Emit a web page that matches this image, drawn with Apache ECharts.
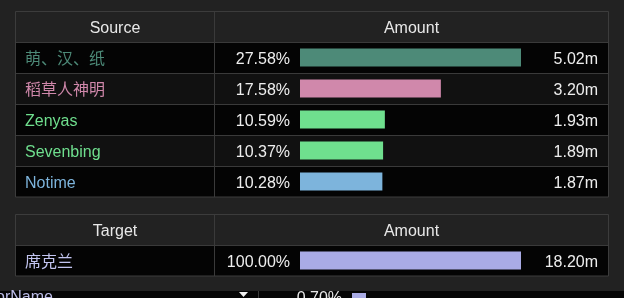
<!DOCTYPE html>
<html>
<head>
<meta charset="utf-8">
<script src="https://cdn.jsdelivr.net/npm/echarts@6/dist/echarts.min.js"></script>
<style>
  html, body { margin: 0; padding: 0; background: #222222; }
  #chart { width: 624px; height: 298px; }
</style>
</head>
<body>
<div id="chart"></div>
<script>
// Damage sources
var sourceNames = ['萌、汉、纸', '稻草人神明', 'Zenyas', 'Sevenbing', 'Notime'];
var sourceShares = [27.58, 17.58, 10.59, 10.37, 10.28];
var sourceAmounts = [5.02, 3.20, 1.93, 1.89, 1.87];
var sourceColors = ['#4d8a78', '#d088ab', '#6fdf8e', '#6fdf8e', '#7db4dc'];

// Targets
var targetNames = ['席克兰'];
var targetShares = [100.00];
var targetAmounts = [18.20];
var targetColors = ['#a9abe5'];

// Header labels
var sourceHeader = ['Source', 'Amount'];
var targetHeader = ['Target', 'Amount'];

var FONT = '"Liberation Sans", Arial, "Noto Sans CJK SC", sans-serif';
var ROW_H = 31;
var TABLE_L = 15.5, TABLE_R = 608.5, COL_X = 214.5;
// cell text sits slightly below the row centre
var CELL_RICH = { c: { padding: [4, 0, 0, 0], fontSize: 16, fontFamily: FONT } };

// Table frame: header cells, striped rows and grid lines
function tableGraphics(top, rows, header) {
  var els = [];
  var bottom = top + ROW_H * (rows + 1);
  for (var i = 0; i < rows; i++) {
    els.push({
      type: 'rect', z: 0,
      shape: { x: TABLE_L, y: top + ROW_H * (i + 1), width: TABLE_R - TABLE_L, height: ROW_H },
      style: { fill: i % 2 === 0 ? '#040404' : '#111111' }
    });
  }
  for (var j = 1; j <= rows; j++) {
    var y = Math.round(top + ROW_H * j) + 0.5;
    els.push({ type: 'line', z: 1, shape: { x1: TABLE_L, y1: y, x2: TABLE_R, y2: y },
      style: { stroke: '#3a3a3a', lineWidth: 1 } });
  }
  els.push({ type: 'line', z: 1, shape: { x1: COL_X, y1: top, x2: COL_X, y2: bottom },
    style: { stroke: '#3a3a3a', lineWidth: 1 } });
  els.push({ type: 'rect', z: 1,
    shape: { x: TABLE_L, y: top + 0.5, width: TABLE_R - TABLE_L, height: bottom - top - 0.5 },
    style: { fill: null, stroke: '#3c3c3c', lineWidth: 1 } });
  els.push({ type: 'text', z: 5, x: (TABLE_L + COL_X) / 2, y: top + ROW_H / 2 + 2.5,
    style: { text: header[0], fill: '#e8e8e8', font: '16px ' + FONT, align: 'center', verticalAlign: 'middle' } });
  els.push({ type: 'text', z: 5, x: (COL_X + TABLE_R) / 2, y: top + ROW_H / 2 + 2.5,
    style: { text: header[1], fill: '#e8e8e8', font: '16px ' + FONT, align: 'center', verticalAlign: 'middle' } });
  return els;
}

var graphics = []
  .concat(tableGraphics(11, sourceNames.length, sourceHeader))
  .concat(tableGraphics(214, targetNames.length, targetHeader));

// Next section peeking in at the bottom edge
graphics.push(
  { type: 'rect', z: 0, shape: { x: 0, y: 291, width: 624, height: 7 }, style: { fill: '#050505' } },
  { type: 'text', z: 5, x: -4, y: 298, style: { text: 'orName', fill: '#bdbde8', font: '16px ' + FONT, align: 'left', verticalAlign: 'middle' } },
  { type: 'polygon', z: 5, shape: { points: [[239, 292], [248, 292], [243.5, 297]] }, style: { fill: '#f0f0f0' } },
  { type: 'line', z: 5, shape: { x1: 258.5, y1: 291, x2: 258.5, y2: 298 }, style: { stroke: '#3a3a3a', lineWidth: 1 } },
  { type: 'text', z: 5, x: 342, y: 299, style: { text: '0.70%', fill: '#e8e8e8', font: '16px ' + FONT, align: 'right', verticalAlign: 'middle' } },
  { type: 'rect', z: 5, shape: { x: 352, y: 293, width: 14, height: 5 }, style: { fill: '#a9abe5' } }
);

function fmtPct(v) { return v.toFixed(2) + '%'; }
function fmtAmt(v) { return v.toFixed(2) + 'm'; }
function cell(text) { return '{c|' + text + '}'; }

function barData(values, colors) {
  return values.map(function (v, i) {
    return { value: v, itemStyle: { color: colors[i] } };
  });
}

function nameAxis(gridIndex, names, colors) {
  return {
    type: 'category', gridIndex: gridIndex, position: 'left', inverse: true, data: names,
    axisLine: { show: false }, axisTick: { show: false }, splitLine: { show: false },
    axisLabel: {
      margin: 275, align: 'left', fontSize: 16, fontFamily: FONT,
      color: function (value, index) { return colors[index]; },
      formatter: cell, rich: CELL_RICH
    }
  };
}

function amountAxis(gridIndex, amounts) {
  return {
    type: 'category', gridIndex: gridIndex, position: 'right', inverse: true,
    data: amounts.map(fmtAmt),
    axisLine: { show: false }, axisTick: { show: false }, splitLine: { show: false },
    axisLabel: { margin: 77, align: 'right', fontSize: 16, fontFamily: FONT, color: '#eeeeee',
      formatter: cell, rich: CELL_RICH }
  };
}

function shareAxis(gridIndex) {
  return { type: 'value', gridIndex: gridIndex, min: 0, max: 'dataMax', show: false };
}

function shareSeries(xi, yi, values, colors) {
  return {
    type: 'bar', xAxisIndex: xi, yAxisIndex: yi, barWidth: 18,
    data: barData(values, colors),
    silent: true, animation: false,
    label: {
      show: true, position: 'left', distance: 10, offset: [0, 2], fontSize: 16, fontFamily: FONT,
      color: '#eeeeee',
      formatter: function (p) { return fmtPct(p.value); }
    }
  };
}

var chart = echarts.init(document.getElementById('chart'), null, { renderer: 'canvas' });
chart.setOption({
  backgroundColor: '#222222',
  animation: false,
  grid: [
    { left: 300, top: 42, width: 221, height: ROW_H * sourceNames.length, containLabel: false },
    { left: 300, top: 245, width: 221, height: ROW_H * targetNames.length, containLabel: false }
  ],
  xAxis: [shareAxis(0), shareAxis(1)],
  yAxis: [
    nameAxis(0, sourceNames, sourceColors),
    amountAxis(0, sourceAmounts),
    nameAxis(1, targetNames, ['#c2c4f0']),
    amountAxis(1, targetAmounts)
  ],
  series: [
    shareSeries(0, 0, sourceShares, sourceColors),
    shareSeries(1, 2, targetShares, targetColors)
  ],
  graphic: { elements: graphics }
});
</script>
</body>
</html>
